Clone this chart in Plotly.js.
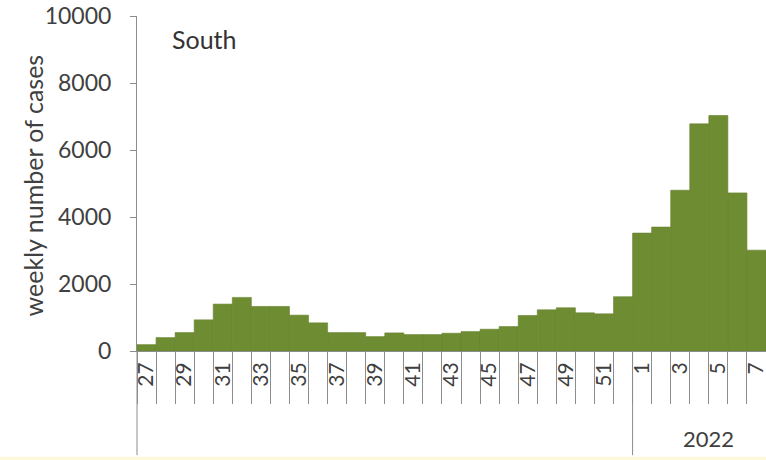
<!DOCTYPE html>
<html>
<head>
<meta charset="utf-8">
<script src="https://cdn.plot.ly/plotly-3.0.1.min.js"></script>
<style>
  html, body { margin: 0; padding: 0; background: #ffffff; }
  #chart { width: 766px; height: 460px; }
</style>
</head>
<body>
<div id="chart"></div>
<script>
// Week labels: 2021 weeks 27-52, then 2022 weeks 1-7
const weeks = ["27","28","29","30","31","32","33","34","35","36","37","38","39","40",
               "41","42","43","44","45","46","47","48","49","50","51","52",
               "1","2","3","4","5","6","7"];
const cases = [190, 400, 550, 930, 1400, 1600, 1330, 1330, 1070, 840, 550, 550, 430, 540,
               490, 490, 530, 580, 650, 730, 1060, 1230, 1290, 1140, 1110, 1620,
               3520, 3700, 4800, 6780, 7030, 4720, 3010];
// Only every other week is labelled
const tickText = weeks.map((w, i) => (i % 2 === 0 ? w : ""));
const yearLabel = "2022";
const regionLabel = "South";
const yTitle = "weekly number of cases";

const textColor = "#404040";
const axisColor = "#8c8c8c";
const barColor = "#6e8c32";

const trace = {
  type: "bar",
  x: weeks,
  y: cases,
  width: 1,
  marker: { color: barColor, line: { color: "#66832d", width: 0.6 } },
  hoverinfo: "x+y"
};

const firstIdx2022 = weeks.indexOf("1");
const lastIdx = weeks.length - 1;

const layout = {
  width: 766,
  height: 460,
  margin: { l: 137, r: 0, t: 16, b: 109 },
  paper_bgcolor: "#ffffff",
  plot_bgcolor: "#ffffff",
  bargap: 0,
  showlegend: false,
  font: { family: "Lato, 'Liberation Sans', sans-serif", color: textColor },
  xaxis: {
    type: "category",
    tickmode: "array",
    tickvals: weeks,
    ticktext: tickText,
    tickson: "boundaries",
    ticks: "outside",
    ticklen: 52,
    tickcolor: axisColor,
    tickwidth: 1,
    tickangle: -90,
    ticklabelstandoff: 2,
    tickfont: { size: 21, color: textColor },
    showline: true,
    linecolor: axisColor,
    linewidth: 1,
    showgrid: false,
    zeroline: false,
    range: [-0.5, lastIdx + 0.5],
    fixedrange: true
  },
  yaxis: {
    range: [0, 10000],
    tickmode: "linear",
    tick0: 0,
    dtick: 2000,
    tickformat: "d",
    ticks: "outside",
    ticklen: 6,
    tickcolor: axisColor,
    ticklabelstandoff: 14,
    tickfont: { size: 23, color: textColor },
    showline: true,
    linecolor: axisColor,
    linewidth: 1,
    showgrid: false,
    zeroline: false,
    automargin: false,
    fixedrange: true
  },
  shapes: [
    // left group divider continuing the y axis down through the category area
    { type: "line", xref: "paper", yref: "paper", x0: 0, x1: 0, y0: 0, y1: -0.311,
      line: { color: axisColor, width: 1 } },
    // divider between 2021 and 2022
    { type: "line", xref: "x", yref: "paper", x0: firstIdx2022 - 0.5, x1: firstIdx2022 - 0.5,
      y0: 0, y1: -0.311, line: { color: axisColor, width: 1 } },
    // pale strip along bottom
    { type: "rect", xref: "paper", yref: "paper", x0: -0.3, x1: 1.01, y0: -0.33, y1: -0.316,
      fillcolor: "#fdf8dc", line: { width: 0 }, layer: "below" }
  ],
  annotations: [
    { text: yTitle, xref: "paper", yref: "paper", x: -0.165, y: 0.495,
      textangle: -90, xanchor: "center", yanchor: "middle", showarrow: false,
      font: { size: 25, color: textColor } },
    { text: regionLabel, xref: "paper", yref: "paper", x: 0.053, y: 0.93,
      xanchor: "left", yanchor: "middle", showarrow: false,
      font: { size: 25, color: "#333333" } },
    { text: yearLabel, xref: "x", yref: "paper", x: (firstIdx2022 + lastIdx) / 2 + 0.5,
      y: -0.26, xanchor: "center", yanchor: "middle", showarrow: false,
      font: { size: 22, color: textColor } }
  ]
};

Plotly.newPlot("chart", [trace], layout, { displayModeBar: false, staticPlot: true });
</script>
</body>
</html>
